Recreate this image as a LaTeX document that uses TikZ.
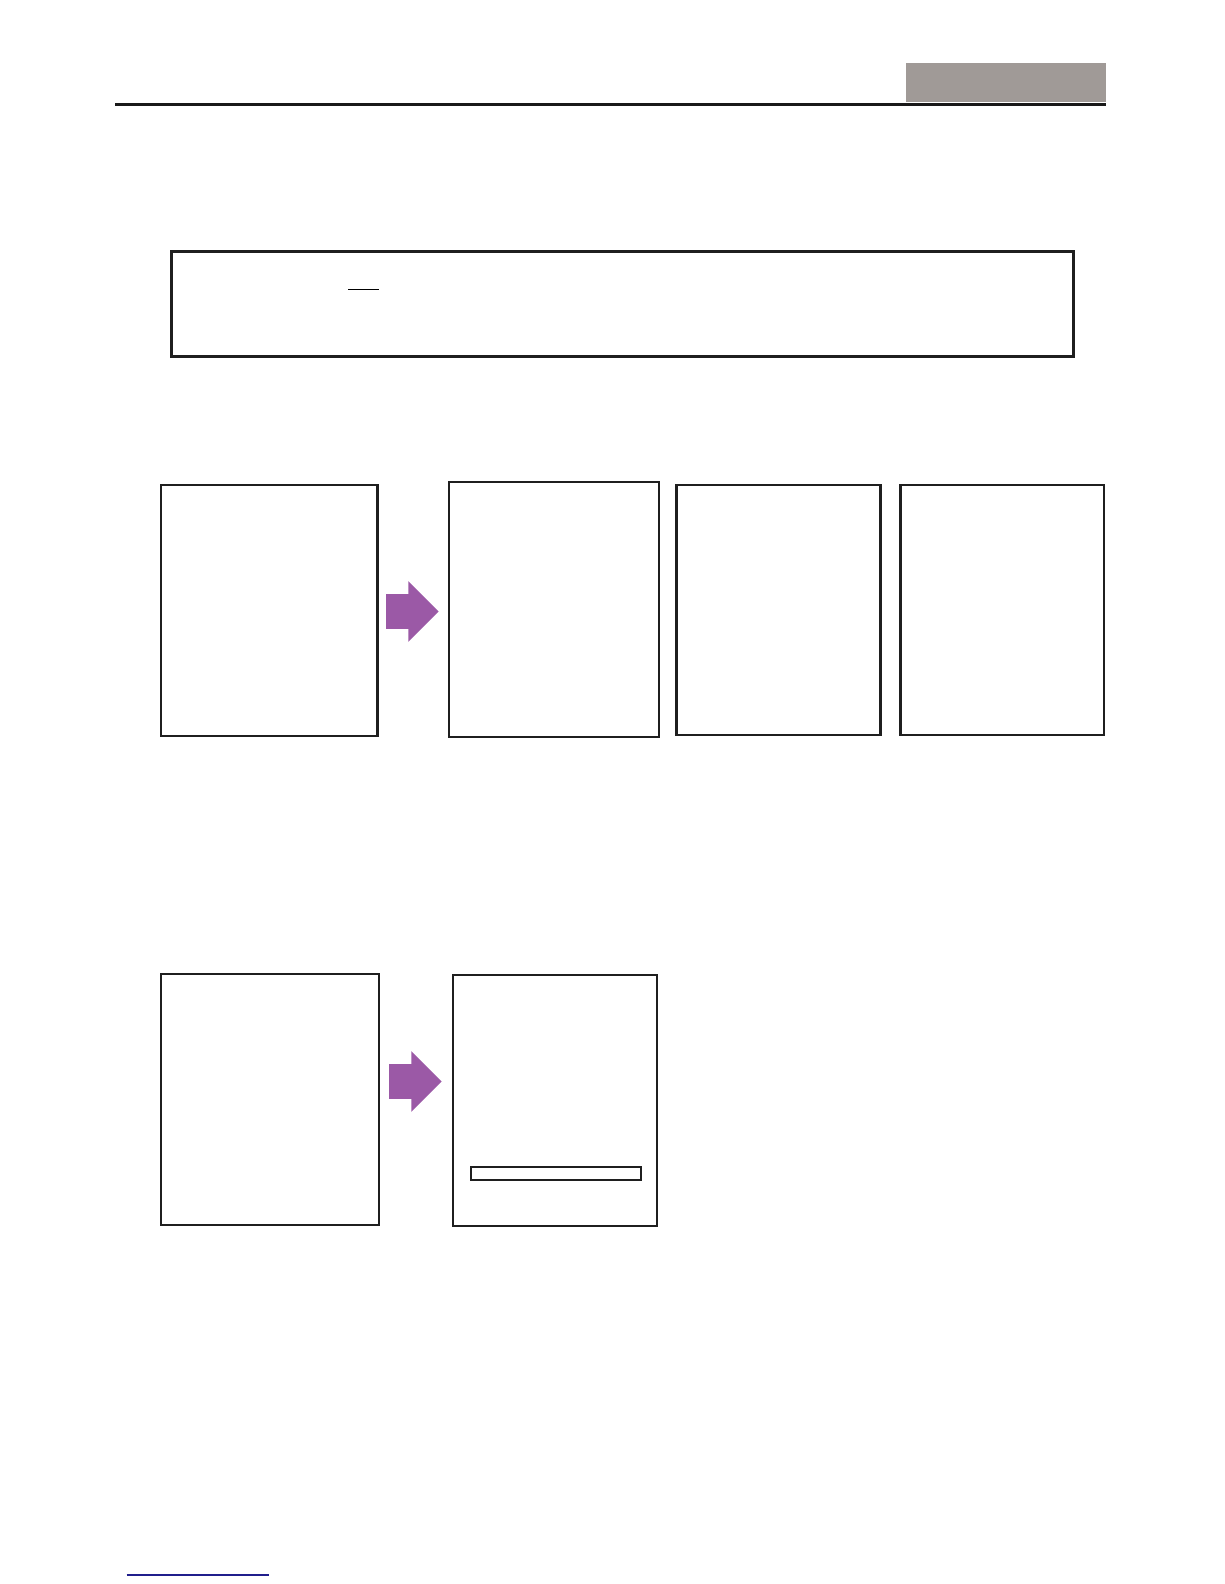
\documentclass[tikz,border=0pt]{standalone}
\usepackage{tikz}
\usetikzlibrary{positioning}

\definecolor{hdrgray}{RGB}{160,154,151}
\definecolor{arrowpurple}{RGB}{155,89,166}
\definecolor{linkblue}{RGB}{32,30,140}

\tikzset{
  panel/.style={draw=black!88, line width=2.6pt, inner sep=0pt, outer sep=0pt,
    anchor=north west},
  thinpanel/.style={panel, line width=1.9pt},
  blockarrow/.pic={
    \fill[arrowpurple] (0,-17.3) -- (22.3,-17.3) -- (22.3,-30.3) -- (52.7,0)
      -- (22.3,30.3) -- (22.3,17.3) -- (0,17.3) -- cycle;
  }
}

\begin{document}
\begin{tikzpicture}[x=1pt, y=-1pt]
    \useasboundingbox (0,0) rectangle (1224,1584);

    % header
    \node[fill=hdrgray, inner sep=0pt, outer sep=0pt, minimum width=200pt,
      minimum height=39pt, anchor=north west] (hdr) at (906,62.7) {};
    \coordinate (rulestart) at (115,104.5);
    \draw[line width=2.4pt, black!90] (rulestart) -- (rulestart -| hdr.east);

    % note box
    \node[panel, line width=2.8pt, minimum width=902pt, minimum height=105pt]
      (note) at (171.7,251.7) {};
    \coordinate (ulstart) at (348,289.3);
    \coordinate (ulend) at (379,289.3);
    \draw[line width=1.1pt] (ulstart) -- (ulend);

    % first row
    \node[panel, minimum width=216.3pt, minimum height=251pt]
      (srcA) at (161,485) {};
    \node[thinpanel, minimum width=210pt, minimum height=255pt,
      right=71.3pt of srcA.north east, anchor=north west, yshift=3.3pt] (resA) {};
    \node[panel, minimum width=203.6pt, minimum height=250pt]
      (resB) at (676.7,485) {};
    \node[panel, minimum width=203.3pt, minimum height=250pt,
      right=20.4pt of resB.north east, anchor=north west] (resC) {};
    \pic (arrA) at (386,611.5) {blockarrow};

    % second row
    \node[thinpanel, minimum width=218.6pt, minimum height=251.6pt]
      (srcB) at (160.7,973.7) {};
    \node[panel, line width=2.2pt, minimum width=203.7pt, minimum height=251.6pt]
      (resD) at (453.3,974.7) {};
    \node[panel, line width=1.8pt, minimum width=169.7pt, minimum height=12.4pt]
      (bar) at (471,1167.3) {};
    \pic (arrB) at (389,1081.5) {blockarrow};

    % footer link
    \coordinate (linkstart) at (126.7,1575);
    \coordinate (linkend) at (269,1575);
    \draw[line width=1.3pt, linkblue] (linkstart) -- (linkend);
\end{tikzpicture}
\end{document}
